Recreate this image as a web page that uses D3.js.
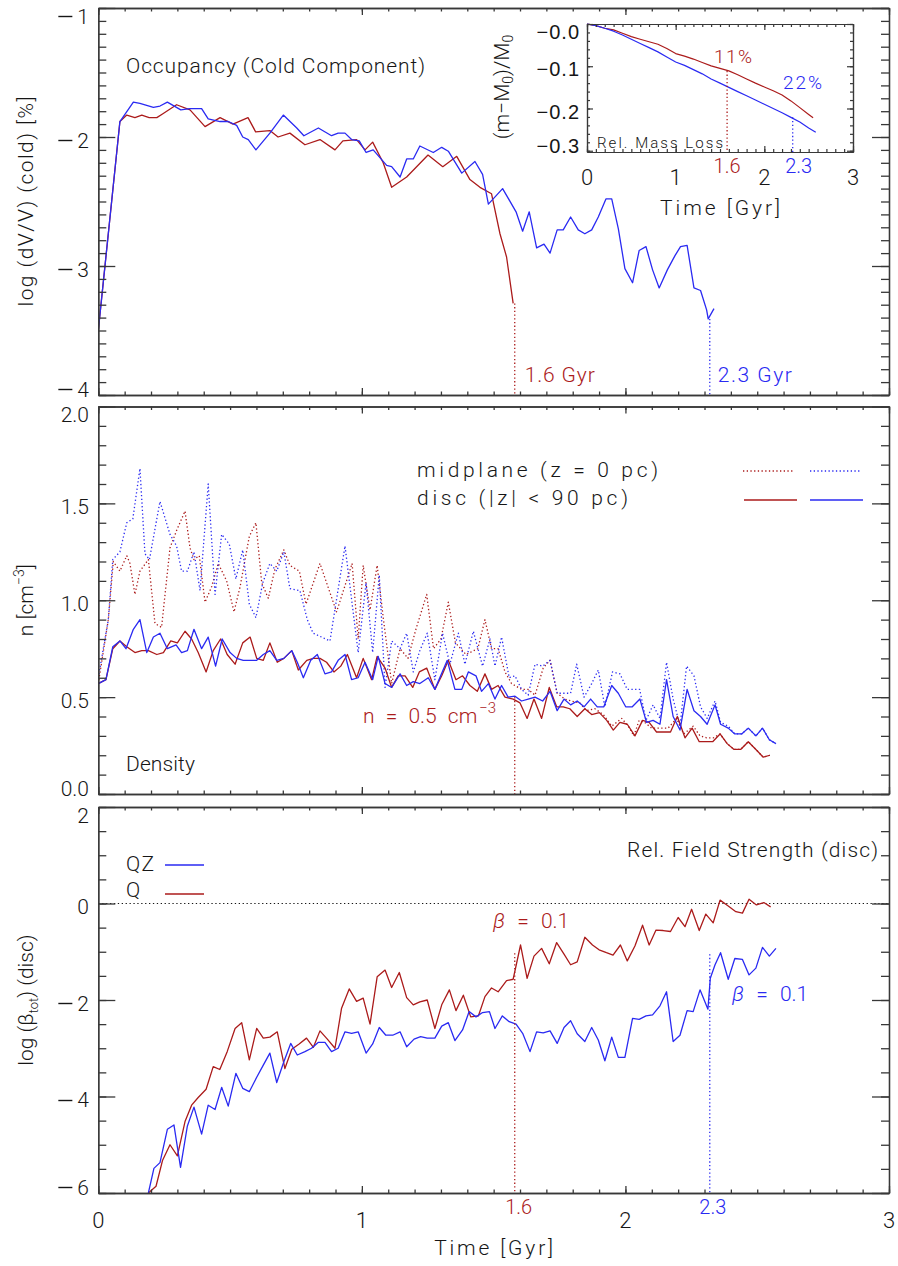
<!DOCTYPE html>
<html><head><meta charset="utf-8">
<script src="https://cdn.jsdelivr.net/npm/d3@7"></script>
<style>
body{margin:0;background:#fff}
svg{display:block}
text{font-family:Roboto,"Liberation Sans",Arial,Helvetica,sans-serif;font-weight:300}
text.heavy{font-family:"Liberation Sans",Arial,Helvetica,sans-serif;font-weight:400}
</style>
</head><body>
<svg id="c" width="898" height="1266"></svg>
<script>
// ---------------- DATA ----------------
// Time axis (Gyr)
const timeTicks = [0, 1, 2, 3];
const timeTickLabels = ["0", "1", "2", "3"];
// marker times where cold phase vanishes: Q (red), QZ (blue)
const markerTimes = [1.58, 2.32];
const markerLabels = ["1.6", "2.3"];
const markerGyrLabels = ["1.6 Gyr", "2.3 Gyr"];
const topMarkerStart = [-3.29, -3.41];
const midMarkerStart = [0.50];
const botMarkerStart = [-1.03, -1.05];
const insetMarkerStart = [-0.111, -0.221];
const insetPctLabels = ["11%", "22%"];

// Panel 1: log(dV/V) cold occupancy  [time, value]
const occupancyQ = [[0,-3.5],[0.082,-1.88],[0.108,-1.83],[0.139,-1.85],[0.165,-1.83],[0.193,-1.85],[0.222,-1.85],[0.245,-1.82],[0.297,-1.75],[0.348,-1.79],[0.405,-1.92],[0.462,-1.85],[0.511,-1.90],[0.568,-1.85],[0.597,-1.96],[0.651,-1.95],[0.682,-2.00],[0.727,-1.97],[0.784,-2.06],[0.841,-2.02],[0.898,-2.10],[0.928,-2.03],[0.980,-2.02],[1.012,-2.10],[1.041,-2.04],[1.081,-2.20],[1.113,-2.39],[1.170,-2.31],[1.251,-2.14],[1.307,-2.23],[1.360,-2.15],[1.410,-2.33],[1.448,-2.39],[1.492,-2.44],[1.524,-2.75],[1.549,-2.93],[1.574,-3.29]];
const occupancyQZ = [[0,-3.5],[0.082,-1.88],[0.133,-1.73],[0.158,-1.74],[0.209,-1.77],[0.234,-1.76],[0.262,-1.73],[0.313,-1.79],[0.348,-1.78],[0.392,-1.78],[0.417,-1.86],[0.462,-1.88],[0.493,-1.88],[0.525,-1.91],[0.548,-2.00],[0.569,-2.02],[0.598,-2.10],[0.651,-1.97],[0.702,-1.83],[0.753,-1.93],[0.780,-1.99],[0.835,-1.93],[0.885,-1.99],[0.910,-1.97],[0.936,-1.97],[0.961,-2.02],[0.990,-2.03],[1.016,-2.12],[1.043,-2.10],[1.094,-2.22],[1.113,-2.23],[1.145,-2.31],[1.170,-2.17],[1.195,-2.17],[1.220,-2.07],[1.271,-2.12],[1.303,-2.08],[1.328,-2.11],[1.379,-2.28],[1.429,-2.19],[1.458,-2.29],[1.480,-2.52],[1.534,-2.40],[1.585,-2.58],[1.610,-2.73],[1.635,-2.58],[1.663,-2.86],[1.691,-2.83],[1.714,-2.90],[1.741,-2.72],[1.764,-2.72],[1.792,-2.62],[1.821,-2.72],[1.846,-2.75],[1.872,-2.72],[1.897,-2.62],[1.926,-2.48],[1.948,-2.48],[1.973,-2.71],[1.998,-3.02],[2.027,-3.13],[2.052,-2.88],[2.078,-2.85],[2.103,-3.03],[2.128,-3.17],[2.159,-3.03],[2.188,-2.92],[2.209,-2.85],[2.234,-2.84],[2.260,-3.17],[2.285,-3.19],[2.308,-3.34],[2.314,-3.41],[2.336,-3.33]];

// Inset: relative mass loss (m-M0)/M0
const massLossQ = [[0,0],[0.1,-0.004],[0.2,-0.010],[0.3,-0.014],[0.4,-0.022],[0.5,-0.030],[0.6,-0.036],[0.7,-0.042],[0.8,-0.048],[0.9,-0.058],[1.0,-0.070],[1.1,-0.076],[1.2,-0.083],[1.3,-0.091],[1.4,-0.099],[1.5,-0.105],[1.6,-0.111],[1.7,-0.120],[1.8,-0.130],[1.9,-0.140],[2.0,-0.149],[2.1,-0.158],[2.2,-0.168],[2.3,-0.182],[2.4,-0.198],[2.5,-0.214],[2.55,-0.222]];
const massLossQZ = [[0,0],[0.1,-0.004],[0.2,-0.010],[0.3,-0.017],[0.4,-0.026],[0.5,-0.036],[0.6,-0.046],[0.7,-0.056],[0.8,-0.066],[0.9,-0.078],[1.0,-0.090],[1.1,-0.098],[1.2,-0.108],[1.3,-0.118],[1.4,-0.130],[1.5,-0.140],[1.6,-0.150],[1.7,-0.160],[1.8,-0.170],[1.9,-0.180],[2.0,-0.190],[2.1,-0.200],[2.2,-0.210],[2.3,-0.221],[2.4,-0.232],[2.5,-0.246],[2.58,-0.256]];

// Panel 2: density n [cm^-3]; disc (solid) and midplane (dotted)
const discQ = [[0,0.57],[0.029,0.59],[0.055,0.75],[0.082,0.79],[0.108,0.76],[0.139,0.73],[0.165,0.74],[0.190,0.74],[0.222,0.72],[0.247,0.73],[0.275,0.79],[0.300,0.78],[0.329,0.84],[0.354,0.80],[0.379,0.73],[0.409,0.63],[0.436,0.74],[0.464,0.80],[0.489,0.72],[0.519,0.67],[0.548,0.78],[0.576,0.81],[0.601,0.70],[0.626,0.69],[0.651,0.78],[0.679,0.68],[0.704,0.70],[0.734,0.74],[0.759,0.64],[0.791,0.69],[0.816,0.70],[0.841,0.70],[0.866,0.68],[0.894,0.63],[0.920,0.66],[0.945,0.72],[0.980,0.60],[1.005,0.70],[1.037,0.59],[1.058,0.71],[1.088,0.65],[1.113,0.55],[1.138,0.61],[1.164,0.61],[1.193,0.55],[1.218,0.63],[1.246,0.65],[1.277,0.54],[1.303,0.61],[1.328,0.69],[1.357,0.59],[1.382,0.61],[1.410,0.56],[1.438,0.53],[1.467,0.62],[1.492,0.54],[1.517,0.56],[1.543,0.50],[1.574,0.49],[1.600,0.47],[1.627,0.39],[1.653,0.49],[1.682,0.39],[1.711,0.55],[1.739,0.45],[1.764,0.45],[1.789,0.44],[1.817,0.40],[1.846,0.44],[1.872,0.41],[1.901,0.42],[1.929,0.38],[1.954,0.33],[1.979,0.37],[2.007,0.36],[2.036,0.30],[2.065,0.38],[2.090,0.37],[2.118,0.32],[2.146,0.32],[2.171,0.32],[2.197,0.40],[2.226,0.29],[2.253,0.34],[2.280,0.27],[2.305,0.27],[2.331,0.27],[2.359,0.31],[2.386,0.26],[2.412,0.23],[2.437,0.23],[2.466,0.27],[2.495,0.23],[2.523,0.19],[2.548,0.20]];
const discQZ = [[0,0.57],[0.029,0.59],[0.055,0.76],[0.082,0.79],[0.105,0.75],[0.133,0.85],[0.158,0.90],[0.184,0.73],[0.209,0.81],[0.234,0.83],[0.262,0.75],[0.295,0.77],[0.316,0.73],[0.338,0.74],[0.363,0.85],[0.392,0.75],[0.417,0.81],[0.445,0.66],[0.470,0.80],[0.500,0.73],[0.525,0.70],[0.550,0.69],[0.576,0.69],[0.601,0.69],[0.626,0.72],[0.651,0.74],[0.677,0.69],[0.704,0.70],[0.734,0.74],[0.755,0.68],[0.778,0.60],[0.806,0.69],[0.831,0.72],[0.860,0.62],[0.885,0.63],[0.910,0.69],[0.936,0.72],[0.961,0.59],[0.986,0.60],[1.012,0.68],[1.041,0.59],[1.062,0.71],[1.088,0.57],[1.113,0.55],[1.145,0.62],[1.170,0.56],[1.195,0.58],[1.220,0.57],[1.252,0.60],[1.277,0.54],[1.324,0.69],[1.353,0.54],[1.379,0.54],[1.404,0.63],[1.433,0.61],[1.454,0.53],[1.480,0.57],[1.505,0.49],[1.530,0.56],[1.555,0.50],[1.581,0.505],[1.606,0.48],[1.631,0.49],[1.657,0.50],[1.686,0.48],[1.714,0.53],[1.741,0.43],[1.767,0.49],[1.792,0.46],[1.817,0.48],[1.843,0.45],[1.868,0.49],[1.893,0.45],[1.918,0.45],[1.948,0.56],[1.973,0.52],[2.001,0.45],[2.026,0.45],[2.055,0.49],[2.080,0.37],[2.105,0.38],[2.131,0.36],[2.156,0.59],[2.181,0.40],[2.207,0.33],[2.234,0.54],[2.260,0.43],[2.285,0.40],[2.310,0.36],[2.340,0.46],[2.361,0.36],[2.390,0.34],[2.415,0.31],[2.441,0.31],[2.466,0.34],[2.495,0.30],[2.520,0.34],[2.546,0.28],[2.571,0.26]];
const midplaneQ = [[0,0.57],[0.038,0.90],[0.057,1.20],[0.082,1.15],[0.108,1.23],[0.120,1.19],[0.139,1.03],[0.158,1.15],[0.190,1.21],[0.215,0.88],[0.240,0.86],[0.272,1.27],[0.297,1.36],[0.329,1.46],[0.348,1.27],[0.363,1.21],[0.383,1.23],[0.405,0.99],[0.430,1.07],[0.455,1.19],[0.487,1.10],[0.515,0.94],[0.538,1.07],[0.573,1.33],[0.598,1.40],[0.620,1.09],[0.645,1.01],[0.670,1.16],[0.704,1.26],[0.727,1.18],[0.763,1.15],[0.788,0.98],[0.841,1.19],[0.904,0.94],[0.963,1.19],[0.986,0.80],[1.005,1.18],[1.031,0.95],[1.058,1.18],[1.082,0.90],[1.113,0.57],[1.145,0.75],[1.175,0.70],[1.205,0.85],[1.246,1.03],[1.272,0.75],[1.300,0.80],[1.328,0.99],[1.355,0.78],[1.395,0.72],[1.440,0.75],[1.467,0.90],[1.492,0.75],[1.517,0.75],[1.543,0.63],[1.568,0.57],[1.606,0.54],[1.631,0.54],[1.657,0.51],[1.688,0.65],[1.714,0.69],[1.741,0.52],[1.770,0.49],[1.795,0.48],[1.827,0.47],[1.852,0.43],[1.884,0.44],[1.916,0.41],[1.948,0.35],[1.986,0.39],[2.011,0.35],[2.032,0.30],[2.052,0.38],[2.073,0.37],[2.099,0.34],[2.131,0.34],[2.162,0.34],[2.194,0.39],[2.221,0.31],[2.257,0.35],[2.283,0.30],[2.308,0.29],[2.334,0.29],[2.359,0.31],[2.386,0.26],[2.412,0.23],[2.437,0.23],[2.466,0.27],[2.495,0.23],[2.523,0.19],[2.548,0.20]];
const midplaneQZ = [[0,0.60],[0.038,0.90],[0.055,1.21],[0.082,1.25],[0.108,1.40],[0.131,1.42],[0.158,1.68],[0.177,1.24],[0.194,1.21],[0.234,1.51],[0.272,1.34],[0.297,1.28],[0.316,1.15],[0.338,1.15],[0.363,1.25],[0.386,1.05],[0.417,1.60],[0.443,1.03],[0.468,1.34],[0.497,1.29],[0.522,1.11],[0.548,1.26],[0.573,0.98],[0.598,0.91],[0.624,1.09],[0.651,1.19],[0.677,1.15],[0.704,1.25],[0.727,1.06],[0.765,1.05],[0.793,0.90],[0.815,0.83],[0.879,0.79],[0.936,1.28],[0.986,0.73],[1.016,1.09],[1.041,0.73],[1.066,1.13],[1.088,0.55],[1.113,0.79],[1.145,0.75],[1.170,0.83],[1.195,0.63],[1.220,0.74],[1.248,0.83],[1.277,0.59],[1.306,0.83],[1.334,0.67],[1.366,0.83],[1.391,0.67],[1.423,0.84],[1.458,0.66],[1.486,0.80],[1.505,0.66],[1.530,0.81],[1.559,0.60],[1.581,0.61],[1.606,0.54],[1.631,0.51],[1.657,0.67],[1.686,0.66],[1.714,0.69],[1.741,0.52],[1.767,0.52],[1.792,0.52],[1.815,0.67],[1.843,0.50],[1.872,0.57],[1.897,0.64],[1.922,0.45],[1.951,0.63],[1.979,0.62],[2.007,0.54],[2.034,0.54],[2.054,0.54],[2.078,0.38],[2.105,0.46],[2.131,0.39],[2.156,0.68],[2.181,0.49],[2.207,0.35],[2.232,0.66],[2.260,0.61],[2.285,0.45],[2.310,0.39],[2.340,0.48],[2.361,0.37],[2.390,0.35],[2.415,0.31],[2.441,0.31],[2.466,0.34],[2.495,0.30],[2.520,0.34],[2.546,0.28],[2.571,0.26]];

// Panel 3: log(beta_tot) disc
const betaQ = [[0.190,-6.00],[0.219,-5.86],[0.244,-5.32],[0.272,-5.00],[0.300,-5.23],[0.329,-4.52],[0.354,-4.18],[0.379,-4.02],[0.409,-3.85],[0.436,-3.38],[0.461,-3.44],[0.489,-3.07],[0.519,-2.59],[0.544,-2.47],[0.573,-3.24],[0.601,-2.59],[0.626,-2.79],[0.651,-2.77],[0.679,-2.66],[0.708,-3.42],[0.734,-3.02],[0.762,-2.91],[0.790,-2.79],[0.816,-2.98],[0.841,-2.64],[0.869,-2.81],[0.898,-3.00],[0.923,-2.17],[0.952,-1.77],[0.980,-2.03],[1.005,-1.96],[1.031,-2.50],[1.058,-1.52],[1.088,-1.38],[1.113,-1.74],[1.142,-1.43],[1.170,-1.95],[1.195,-2.10],[1.220,-2.04],[1.248,-2.00],[1.277,-2.59],[1.303,-2.10],[1.332,-1.79],[1.357,-2.22],[1.385,-1.90],[1.413,-2.35],[1.442,-2.33],[1.467,-1.93],[1.492,-1.75],[1.517,-1.83],[1.549,-1.60],[1.574,-1.57],[1.602,-0.86],[1.627,-1.55],[1.653,-1.09],[1.682,-0.93],[1.711,-1.25],[1.739,-0.81],[1.767,-1.05],[1.792,-1.27],[1.817,-1.21],[1.846,-0.70],[1.875,-0.86],[1.900,-0.96],[1.928,-1.02],[1.953,-1.07],[1.981,-0.86],[2.007,-1.19],[2.036,-0.88],[2.065,-0.45],[2.090,-0.86],[2.116,-0.55],[2.143,-0.56],[2.171,-0.58],[2.200,-0.29],[2.226,-0.48],[2.251,-0.12],[2.280,-0.56],[2.305,-0.22],[2.333,-0.40],[2.359,0.07],[2.390,-0.05],[2.419,-0.17],[2.444,-0.20],[2.469,0.09],[2.497,-0.03],[2.525,0.02],[2.551,-0.07]];
const betaQZ = [[0.190,-6.00],[0.211,-5.49],[0.234,-5.37],[0.262,-4.68],[0.287,-4.59],[0.312,-5.47],[0.338,-4.61],[0.363,-4.22],[0.392,-4.78],[0.417,-4.18],[0.443,-4.27],[0.468,-3.81],[0.493,-4.20],[0.522,-3.52],[0.548,-3.83],[0.573,-3.90],[0.601,-3.60],[0.626,-3.35],[0.651,-3.10],[0.677,-3.71],[0.704,-3.28],[0.730,-2.90],[0.755,-3.14],[0.784,-3.07],[0.809,-3.00],[0.834,-2.88],[0.860,-2.88],[0.885,-3.07],[0.910,-3.00],[0.936,-2.66],[0.961,-2.69],[0.986,-2.66],[1.016,-3.10],[1.041,-2.91],[1.066,-2.57],[1.091,-2.73],[1.117,-2.73],[1.145,-2.66],[1.170,-2.97],[1.198,-2.81],[1.223,-2.76],[1.248,-2.79],[1.277,-2.79],[1.303,-2.54],[1.328,-2.47],[1.353,-2.84],[1.382,-2.62],[1.407,-2.24],[1.433,-2.35],[1.458,-2.26],[1.484,-2.24],[1.505,-2.59],[1.533,-2.33],[1.559,-2.45],[1.585,-2.50],[1.610,-2.69],[1.638,-3.07],[1.663,-2.66],[1.688,-2.68],[1.714,-2.64],[1.741,-2.90],[1.767,-2.57],[1.792,-2.43],[1.817,-2.70],[1.846,-2.86],[1.872,-2.57],[1.897,-2.83],[1.922,-3.26],[1.948,-2.77],[1.973,-3.19],[1.998,-3.19],[2.027,-2.38],[2.052,-2.40],[2.078,-2.33],[2.103,-2.31],[2.131,-2.12],[2.156,-1.83],[2.181,-2.86],[2.207,-2.73],[2.234,-2.22],[2.257,-2.24],[2.283,-1.79],[2.313,-2.19],[2.322,-1.55],[2.340,-1.27],[2.361,-1.02],[2.390,-1.57],[2.415,-1.14],[2.444,-1.16],[2.469,-1.48],[2.495,-1.34],[2.520,-0.91],[2.546,-1.09],[2.571,-0.93]];

// Axis tick values
const occTicks = [-4, -3, -2, -1];
const densTicks = [0, 0.5, 1.0, 1.5, 2.0];
const betaTicks = [-6, -4, -2, 0, 2];
const lossTicks = [-0.3, -0.2, -0.1, 0];
const lossTickLabels = ["\u22120.3", "\u22120.2", "\u22120.1", "\u22120.0"];

// ---------------- DRAWING ----------------
const RED = "#ab1b1b", BLUE = "#2a2af2", INK = "#161616", AXC = "#383838";
const svg = d3.select("#c");
const defs = svg.append("defs");

const x = d3.scaleLinear().domain([0, 3]).range([98.3, 889]);
const P = {
  top: { y: d3.scaleLinear().domain([-4, -1]).range([395, 8]), minor: d3.range(-4, -0.999, 0.1), major: occTicks },
  mid: { y: d3.scaleLinear().domain([0, 2]).range([794, 406.5]), minor: d3.range(0, 2.001, 0.1), major: densTicks },
  bot: { y: d3.scaleLinear().domain([-6, 2]).range([1193, 807]), minor: d3.range(-6, 2.001, 0.5), major: betaTicks }
};

function axisSet(g, X, Y, xMaj, xMin, yMaj, yMin, L) {
  const [yb, yt] = Y.range();
  const [xl, xr] = X.range();
  const specs = [
    [d3.axisBottom(X), `translate(0,${yb})`, xMaj, xMin, L.xM, L.xm],
    [d3.axisTop(X), `translate(0,${yt})`, xMaj, xMin, L.xM, L.xm],
    [d3.axisLeft(Y), `translate(${xl},0)`, yMaj, yMin, L.yM, L.ym],
    [d3.axisRight(Y), `translate(${xr},0)`, yMaj, yMin, L.yM, L.ym]
  ];
  specs.forEach(([ax, tr, maj, min, lM, lm]) => {
    const a1 = g.append("g").attr("transform", tr).attr("color", AXC)
      .call(ax.tickValues(min).tickSize(-lm).tickSizeOuter(0).tickFormat(""));
    const a2 = g.append("g").attr("transform", tr).attr("color", AXC)
      .call(ax.tickValues(maj).tickSize(-lM).tickSizeOuter(0).tickFormat(""));
    [a1, a2].forEach(a => a.selectAll("path,line").attr("stroke-width", L.w));
  });
}

// main-panel tick labels with an IDL-like separated long minus sign
function yLabels(g, Y, vals, xr, size, fmt, dashLen, gap) {
  const [yb, yt] = Y.range();
  vals.forEach(v => {
    const yy = Math.max(yt + 8, Math.min(yb - 6, Y(v) + 3));
    const t = g.append("text").attr("x", xr).attr("y", yy).attr("dy", "0.36em")
      .attr("text-anchor", "end").attr("font-size", size).attr("fill", INK)
      .text(fmt(v));
    if (v < 0) {
      const w = t.node().getComputedTextLength();
      const x2 = xr - w - gap;
      g.append("rect").attr("x", x2 - dashLen).attr("y", Math.round(yy) - 0.2)
        .attr("width", dashLen).attr("height", 1.4).attr("fill", INK);
    }
  });
}

function lineOf(g, data, Y, color, dashed, X = x, w = 1.3) {
  const p = g.append("path").datum(data)
    .attr("d", d3.line().x(d => X(d[0])).y(d => Y(d[1])))
    .attr("fill", "none").attr("stroke", color).attr("stroke-width", w)
    .attr("stroke-linejoin", "round");
  if (dashed) p.attr("stroke-dasharray", "1.3,2.4");
  return p;
}

function vDotted(g, t, v0, Y, color, X = x) {
  g.append("line").attr("x1", X(t)).attr("x2", X(t))
    .attr("y1", Y(v0)).attr("y2", Y.range()[0])
    .attr("stroke", color).attr("stroke-width", 1.3).attr("stroke-dasharray", "1.3,2.4");
}

function text(g, s, xx, yy, o = {}) {
  const t = g.append("text").attr("x", xx).attr("y", yy)
    .attr("font-size", o.size || 21).attr("fill", o.color || INK).text(s);
  if (o.anchor) t.attr("text-anchor", o.anchor);
  if (o.len) t.attr("textLength", o.len).attr("lengthAdjust", "spacing");
  return t;
}

const absFmt = v => String(Math.abs(v));
const mainL = { xM: 7, xm: 3.5, yM: 17, ym: 8, w: 1.3 };

// ---- clip paths per panel
Object.entries(P).forEach(([k, p]) => {
  defs.append("clipPath").attr("id", "clip-" + k).append("rect")
    .attr("x", x.range()[0]).attr("y", p.y.range()[1])
    .attr("width", x.range()[1] - x.range()[0]).attr("height", p.y.range()[0] - p.y.range()[1]);
});

// ========== TOP PANEL ==========
{
  const p = P.top, g = svg.append("g");
  const gl = g.append("g").attr("clip-path", "url(#clip-top)");
  lineOf(gl, occupancyQ, p.y, RED);
  lineOf(gl, occupancyQZ, p.y, BLUE);
  vDotted(g, markerTimes[0], topMarkerStart[0], p.y, RED);
  vDotted(g, markerTimes[1], topMarkerStart[1], p.y, BLUE);
  axisSet(g, x, p.y, timeTicks, d3.range(0, 3.001, 0.1), p.major, p.minor, mainL);
  yLabels(g, p.y, occTicks, 89, 21, absFmt, 14, 5);
  text(g, "Occupancy (Cold Component)", 126, 73, { len: 299 });
  text(g, markerGyrLabels[0], x(markerTimes[0]) + 10, p.y.range()[0] - 13, { color: RED, len: 70 });
  text(g, markerGyrLabels[1], x(markerTimes[1]) + 8, p.y.range()[0] - 13, { color: BLUE, len: 74 });
  g.append("text").attr("transform", `translate(33,${(p.y.range()[0] + p.y.range()[1]) / 2}) rotate(-90)`)
    .attr("text-anchor", "middle").attr("font-size", 21).attr("fill", INK)
    .attr("textLength", 210).attr("lengthAdjust", "spacing")
    .text("log (dV/V) (cold) [%]");
}

// ========== INSET ==========
{
  const ix = d3.scaleLinear().domain([0, 3]).range([587, 853]);
  const iy = d3.scaleLinear().domain([-0.303, 0]).range([152, 24]);
  const g = svg.append("g");
  lineOf(g, massLossQ, iy, RED, false, ix, 1.2);
  lineOf(g, massLossQZ, iy, BLUE, false, ix, 1.2);
  vDotted(g, markerTimes[0], insetMarkerStart[0], iy, RED, ix);
  vDotted(g, markerTimes[1], insetMarkerStart[1], iy, BLUE, ix);
  axisSet(g, ix, iy, timeTicks, d3.range(0, 3.001, 0.1), lossTicks, d3.range(-0.3, 0.001, 0.02),
    { xM: 6, xm: 3, yM: 6, ym: 3, w: 1.2 });
  // inset y tick labels: one text string each (minus included), regular-weight font
  lossTicks.forEach((v, i) => {
    const yy = Math.max(24 + 8, Math.min(152 - 6, iy(v) + 3));
    g.append("text").attr("class", "heavy").attr("x", 580).attr("y", yy).attr("dy", "0.36em")
      .attr("text-anchor", "end").attr("font-size", 20).attr("fill", INK)
      .attr("letter-spacing", 1)
      .text(lossTickLabels[i]);
  });
  timeTicks.forEach((t, i) => text(g, timeTickLabels[i], ix(t), 185, { anchor: "middle", size: 22 }));
  text(g, "Time [Gyr]", 720, 215, { anchor: "middle", len: 120 });
  text(g, "Rel. Mass Loss", 597, 148, { size: 15, len: 126 });
  text(g, insetPctLabels[0], 714, 63, { color: RED, size: 19, len: 38 });
  text(g, insetPctLabels[1], 783, 89, { color: BLUE, size: 19, len: 39 });
  text(g, markerLabels[0], ix(markerTimes[0]), 173, { color: RED, anchor: "middle", size: 20 });
  text(g, markerLabels[1], ix(markerTimes[1]) + 6, 173, { color: BLUE, anchor: "middle", size: 20 });
  const tt = g.append("text").attr("transform", "translate(509,87) rotate(-90)")
    .attr("text-anchor", "middle").attr("font-size", 21).attr("fill", INK);
  tt.append("tspan").text("(m\u2212M");
  tt.append("tspan").attr("font-size", 14).attr("dy", 4).text("0");
  tt.append("tspan").attr("dy", -4).text(")/M");
  tt.append("tspan").attr("font-size", 14).attr("dy", 4).text("0");
}

// ========== MIDDLE PANEL ==========
{
  const p = P.mid, g = svg.append("g");
  const gl = g.append("g").attr("clip-path", "url(#clip-mid)");
  lineOf(gl, midplaneQ, p.y, RED, true);
  lineOf(gl, midplaneQZ, p.y, BLUE, true);
  lineOf(gl, discQ, p.y, RED);
  lineOf(gl, discQZ, p.y, BLUE);
  vDotted(g, markerTimes[0], midMarkerStart[0], p.y, RED);
  axisSet(g, x, p.y, timeTicks, d3.range(0, 3.001, 0.1), p.major, p.minor, mainL);
  yLabels(g, p.y, densTicks, 89, 21, d3.format(".1f"), 14, 5);
  text(g, "midplane (z = 0 pc)", 417, 477, { len: 241 });
  text(g, "disc (|z| < 90 pc)", 417, 505, { len: 211 });
  // legend samples
  const leg = [[743, 793, 471, RED, true], [810, 860, 471, BLUE, true], [744, 797, 500, RED, false], [810, 863, 500, BLUE, false]];
  leg.forEach(([a, b, yy, c, d]) => {
    const l = g.append("line").attr("x1", a).attr("x2", b).attr("y1", yy).attr("y2", yy)
      .attr("stroke", c).attr("stroke-width", 1.3);
    if (d) l.attr("stroke-dasharray", "1.3,2.4");
  });
  text(g, "Density", 126, 771, { len: 69 });
  const nt = g.append("text").attr("x", 363).attr("y", 723).attr("font-size", 21).attr("fill", RED);
  nt.append("tspan").text("n = 0.5 cm").attr("word-spacing", 6);
  nt.append("tspan").attr("font-size", 15).attr("dy", -10).attr("dx", 2).text("\u22123");
  g.append("text").attr("transform", `translate(33,${(p.y.range()[0] + p.y.range()[1]) / 2}) rotate(-90)`)
    .attr("text-anchor", "middle").attr("font-size", 21).attr("fill", INK)
    .call(t => {
      t.append("tspan").text("n [cm");
      t.append("tspan").attr("font-size", 14).attr("dy", -9).text("\u22123");
      t.append("tspan").attr("dy", 9).text("]");
    });
}

// ========== BOTTOM PANEL ==========
{
  const p = P.bot, g = svg.append("g");
  g.append("line").attr("x1", x(0)).attr("x2", x(3)).attr("y1", p.y(0)).attr("y2", p.y(0))
    .attr("stroke", INK).attr("stroke-width", 1.2).attr("stroke-dasharray", "1.3,2.6");
  const gl = g.append("g").attr("clip-path", "url(#clip-bot)");
  lineOf(gl, betaQ, p.y, RED);
  lineOf(gl, betaQZ, p.y, BLUE);
  vDotted(g, markerTimes[0], botMarkerStart[0], p.y, RED);
  vDotted(g, markerTimes[1], botMarkerStart[1], p.y, BLUE);
  axisSet(g, x, p.y, timeTicks, d3.range(0, 3.001, 0.1), p.major, p.minor, mainL);
  yLabels(g, p.y, betaTicks, 89, 21, absFmt, 14, 5);
  timeTicks.forEach((t, i) => text(g, timeTickLabels[i], x(t), 1228, { anchor: "middle", size: 22 }));
  text(g, markerLabels[0], x(markerTimes[0]) + 4, 1214, { color: RED, anchor: "middle", size: 20 });
  text(g, markerLabels[1], x(markerTimes[1]) + 3, 1214, { color: BLUE, anchor: "middle", size: 20 });
  text(g, "Time [Gyr]", x(1.5), 1255, { anchor: "middle", len: 119 });
  text(g, "Rel. Field Strength (disc)", 878, 857, { anchor: "end", len: 251 });
  text(g, "QZ", 126, 871, { len: 28 });
  text(g, "Q", 126, 897);
  g.append("line").attr("x1", 165).attr("x2", 204).attr("y1", 865).attr("y2", 865).attr("stroke", BLUE).attr("stroke-width", 1.3);
  g.append("line").attr("x1", 165).attr("x2", 204).attr("y1", 894).attr("y2", 894).attr("stroke", RED).attr("stroke-width", 1.3);
  const beta = (xx, yy, c) => {
    const t = g.append("text").attr("x", xx).attr("y", yy).attr("font-size", 21).attr("fill", c).attr("word-spacing", 7);
    t.append("tspan").attr("font-style", "italic").text("\u03b2");
    t.append("tspan").text(" = 0.1");
  };
  beta(493, 928, RED);
  beta(732, 1001, BLUE);
  g.append("text").attr("transform", `translate(33,${(p.y.range()[0] + p.y.range()[1]) / 2}) rotate(-90)`)
    .attr("text-anchor", "middle").attr("font-size", 21).attr("fill", INK)
    .call(t => {
      t.append("tspan").text("log (\u03b2");
      t.append("tspan").attr("font-size", 13).attr("dy", 5).text("tot");
      t.append("tspan").attr("dy", -5).text(") (disc)");
    });
}
</script>
</body></html>
